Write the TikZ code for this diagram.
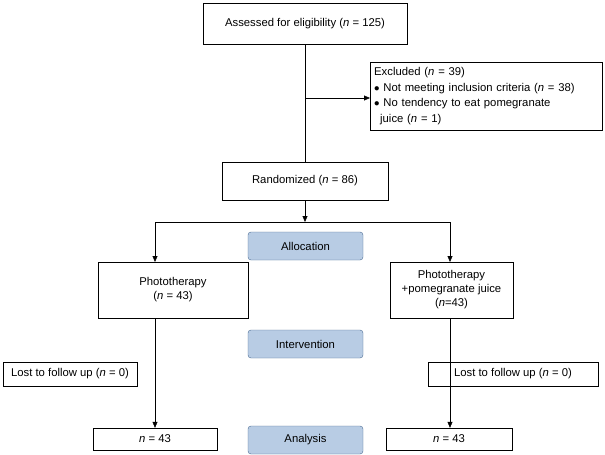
\documentclass[tikz,border=0pt]{standalone}
\usepackage{fontspec}
\setmainfont{Liberation Sans}
\usetikzlibrary{arrows.meta}
\definecolor{bfill}{HTML}{B8CCE4}
\definecolor{bdraw}{HTML}{4A6A92}
\begin{document}
\begin{tikzpicture}[x=1pt,y=-1pt,
  box/.style={draw,thin,inner sep=2pt,align=center,font=\fontsize{11.3}{14}\selectfont},
  blue/.style={draw=bdraw,fill=bfill,rounded corners=3pt,font=\fontsize{11.3}{14}\selectfont,minimum width=115pt,minimum height=28pt},
  arr/.style={-{Triangle[length=6pt,width=5pt]},thin}]
\useasboundingbox (0,0) rectangle (605,455);
\node[box,minimum width=204pt,minimum height=41pt] (a) at (305,23.5) {Assessed for eligibility (\textit{n} = 125)};
\node[box,font=\fontsize{11.3}{15.5}\selectfont,minimum width=232pt,minimum height=68pt,align=left,text width=224pt,anchor=north west] (ex) at (370,62) {Excluded (\textit{n} = 39)\\
$\bullet$ Not meeting inclusion criteria (\textit{n} = 38)\\
$\bullet$ No tendency to eat pomegranate\\
\hspace*{6pt}juice (\textit{n} = 1)};
\node[box,minimum width=166pt,minimum height=38pt] (r) at (305,181) {Randomized (\textit{n} = 86)};
\node[blue] (al) at (305.5,246) {Allocation};
\node[blue] (in) at (305.5,344) {Intervention};
\node[blue] (an) at (305.5,440) {Analysis};
\node[box,minimum width=150pt,minimum height=56pt] (p1) at (173,290) {Phototherapy\\(\textit{n} = 43)};
\node[box,minimum width=123pt,minimum height=56pt] (p2) at (451.5,290) {Phototherapy\\+pomegranate juice\\(\textit{n}=43)};
\node[box,minimum width=134pt,minimum height=24pt] (l1) at (70,374) {Lost to follow up (\textit{n} = 0)};
\node[box,minimum width=170pt,minimum height=24pt] (l2) at (513,374) {Lost to follow up (\textit{n} = 0)};
\node[box,minimum width=124pt,minimum height=22pt] (f1) at (155,439) {\textit{n} = 43};
\node[box,minimum width=126pt,minimum height=22pt] (f2) at (449,439) {\textit{n} = 43};
\coordinate (j) at (305,222);
\draw (a) -- (r);
\draw[arr] (305,98) -- (ex.west |- 0,98);
\draw[arr] (r) -- (j);
\draw (155,222) -- (450,222);
\draw[arr] (155,222) -- (155,262);
\draw[arr] (450,222) -- (450,262);
\draw[arr] (155,318) -- (f1.north);
\draw[arr] (450,318) -- (f2.north -| 450,0);
\end{tikzpicture}
\end{document}
